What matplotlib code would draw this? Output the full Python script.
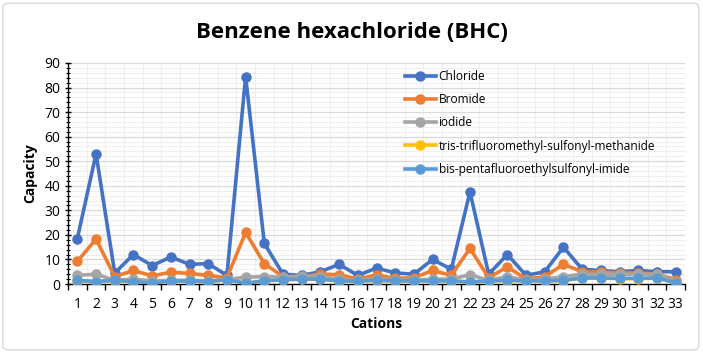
import numpy as np
import matplotlib.pyplot as plt
from matplotlib.patches import FancyBboxPatch
from matplotlib.ticker import MultipleLocator

plt.rcParams['font.family'] = ['Open Sans', 'DejaVu Sans']

cations = list(range(1, 34))
chloride = [18.5, 53, 4.5, 12, 7.5, 11, 8, 8.3, 3.5, 84.5, 16.5, 4, 3.5, 5, 8, 3.5, 6.5,
            4.5, 4, 10, 6, 37.5, 4, 12, 3.5, 5, 15, 6, 5.5, 5, 5.5, 5, 5]
bromide = [9.2, 18.3, 3, 5.5, 3.3, 4.8, 4.3, 3.5, 2.5, 21, 8.3, 3, 3, 4, 3.8, 2, 3.7,
           2.3, 2.5, 5.5, 3.5, 14.5, 2.5, 7, 2, 3, 8, 5, 5, 4.5, 4.5, 4, 1.8]
iodide = [3.5, 4, 1.5, 2, 1.2, 1.5, 1.5, 1.3, 1.8, 2.8, 3, 2.8, 3.3, 3, 2, 1.5, 2,
          1.8, 1.5, 2, 2, 3.8, 1.5, 3, 1.5, 2, 3, 4, 4, 4, 4, 4, 1]
tris = [1.3, 0.9, 1.4, 0.9, 0.5, 1.1, 1.2, 0.9, 1.7, 0.3, 1.2, 1.7, 1.9, 1.9, 1.2, 1.1, 1.4,
        1.2, 1.2, 1.2, 1.2, 0.8, 1.2, 1.4, 1.2, 1.2, 1.4, 2.4, 2.4, 2.2, 2.2, 2.4, 0.5]
bis = [1.5, 1, 1.5, 1, 0.5, 1.2, 1.3, 1, 1.8, 0.3, 1.3, 1.8, 2, 2, 1.3, 1.2, 1.5,
       1.3, 1.3, 1.3, 1.3, 0.8, 1.3, 1.5, 1.3, 1.3, 1.5, 2.5, 2.5, 2.3, 2.3, 2.5, 0.5]

series = [
    ('Chloride', chloride, '#4472C4'),
    ('Bromide', bromide, '#ED7D31'),
    ('iodide', iodide, '#A5A5A5'),
    ('tris-trifluoromethyl-sulfonyl-methanide', tris, '#FFC000'),
    ('bis-pentafluoroethylsulfonyl-imide', bis, '#5B9BD5'),
]

fig = plt.figure(figsize=(7.03, 3.52), dpi=100)
border = FancyBboxPatch((0.004, 0.006), 0.99, 0.985, boxstyle='round,pad=0,rounding_size=0.01',
                        transform=fig.transFigure, facecolor='white',
                        edgecolor='#D9D9D9', linewidth=1.0, zorder=-10)
fig.patches.append(border)
ax = fig.add_axes([68 / 703, 1 - 284 / 352, (685 - 68) / 703, (284 - 63) / 352])
ax.set_facecolor('none')

for name, vals, col in series:
    ax.plot(cations, vals, color=col, lw=2.6, marker='o', ms=6.5, label=name, zorder=3)

ax.set_xlim(0.5, 33.5)
ax.set_ylim(0, 90)
ax.set_xticks(cations)
ax.set_xticks(np.arange(0.5, 34, 1), minor=True)
ax.yaxis.set_major_locator(MultipleLocator(10))
ax.yaxis.set_minor_locator(MultipleLocator(2))
ax.grid(which='major', axis='y', color='#D9D9D9', lw=0.9)
ax.grid(which='minor', axis='y', color='#EFEFEF', lw=0.8)
ax.grid(which='minor', axis='x', color='#EFEFEF', lw=0.8)
ax.set_axisbelow(True)

for s in ['top', 'right']:
    ax.spines[s].set_visible(False)
for s in ['left', 'bottom']:
    ax.spines[s].set_color('#000000')
    ax.spines[s].set_linewidth(1.0)

ax.tick_params(axis='x', which='major', length=0, labelsize=10, pad=9)
ax.tick_params(axis='x', which='minor', length=4, direction='out', width=1)
ax.tick_params(axis='y', which='major', length=4, direction='inout', width=1, labelsize=10)
ax.tick_params(axis='y', which='minor', length=3, direction='inout', width=0.8)

ax.set_xlabel('Cations', fontsize=10, fontweight='bold', labelpad=4)
ax.set_ylabel('Capacity', fontsize=10, fontweight='bold', labelpad=5)
fig.text(0.5, 1 - 32 / 352, 'Benzene hexachloride (BHC)', ha='center', va='center',
         fontsize=16, fontweight='bold')

ax.legend(loc='upper left', bbox_to_anchor=(0.528, 1.018), frameon=False, fontsize=8.6,
          handlelength=2.6, labelspacing=0.86, handletextpad=0.25)

fig.savefig('out.png', dpi=100)
